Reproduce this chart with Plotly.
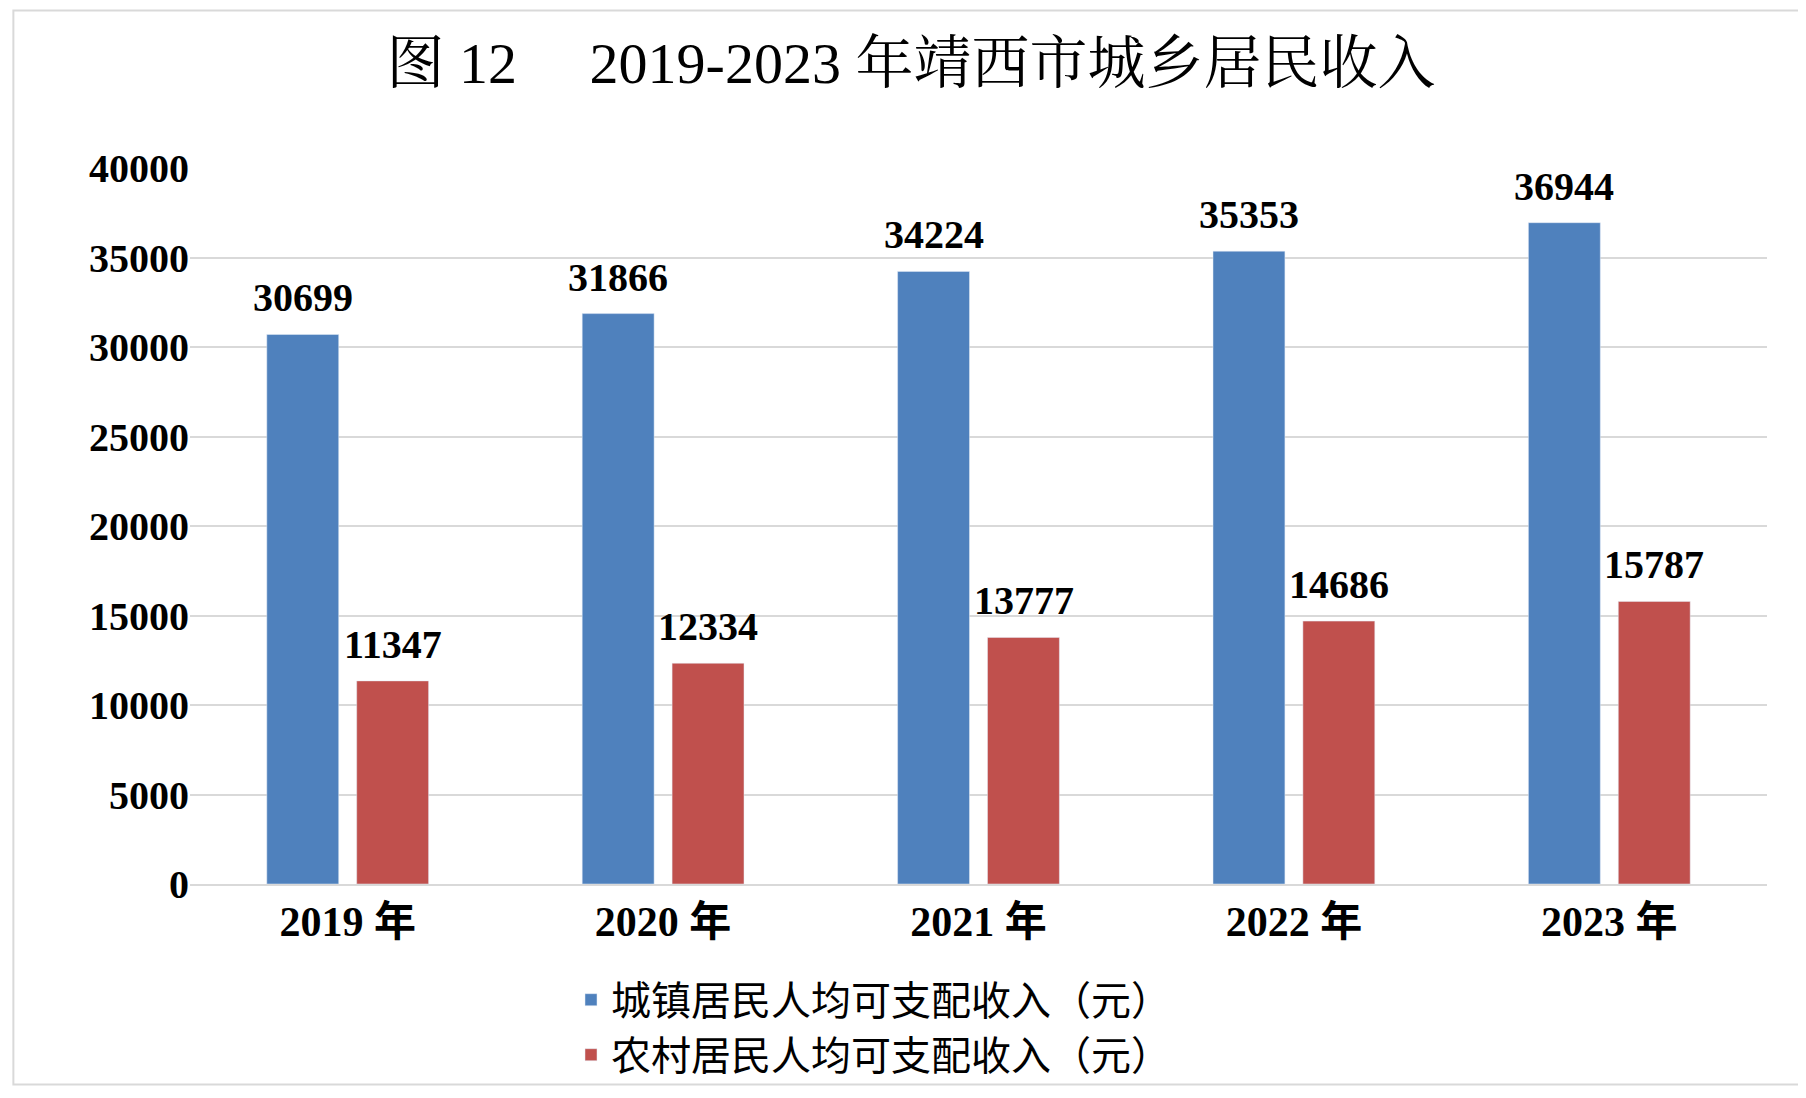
import plotly.graph_objs as go

years = ['2019 年', '2020 年', '2021 年', '2022 年', '2023 年']
urban = [30699, 31866, 34224, 35353, 36944]
rural = [11347, 12334, 13777, 14686, 15787]
y_ticks = [0, 5000, 10000, 15000, 20000, 25000, 30000, 35000, 40000]

num_font = dict(family='Liberation Serif, Noto Sans CJK SC', size=40, color='black', weight='bold')

fig = go.Figure()
fig.add_trace(go.Bar(x=years, y=urban, name='城镇居民人均可支配收入（元）', marker_color='#4F81BD'))
fig.add_trace(go.Bar(x=years, y=rural, name='农村居民人均可支配收入（元）', marker_color='#C0504D'))

# 数据标签
for yr, u, r in zip(years, urban, rural):
    fig.add_annotation(x=yr, y=u, text=str(u), showarrow=False, xshift=-45, yshift=12,
                       yanchor='bottom', font=num_font)
    fig.add_annotation(x=yr, y=r, text=str(r), showarrow=False, xshift=45, yshift=12,
                       yanchor='bottom', font=num_font)

fig.update_layout(
    width=1806, height=1098,
    paper_bgcolor='white', plot_bgcolor='white',
    title=dict(text='图 12\u3000 2019-2023 年靖西市城乡居民收入', x=0.5, xanchor='center',
               y=0.95, yanchor='middle',
               font=dict(family='Liberation Serif, Noto Serif CJK SC, Noto Sans CJK SC', size=58, color='black')),
    barmode='group', bargap=0.43, bargroupgap=0.2,
    margin=dict(l=182, r=47, t=160, b=222),
    showlegend=True,
    legend=dict(orientation='h', x=0.5, xanchor='center', y=-0.2, yanchor='middle',
                bgcolor='rgba(0,0,0,0)',
                font=dict(family='Noto Sans CJK SC', size=40, color='black'),
                entrywidth=770, entrywidthmode='pixels'),
    xaxis=dict(tickfont=dict(family='Liberation Serif, Noto Sans CJK SC', size=42, color='black', weight='bold'),
               showline=True, linecolor='#d9d9d9', linewidth=2, ticks=''),
    yaxis=dict(range=[0, 40000], tickvals=y_ticks, ticktext=[str(v) for v in y_ticks],
               showgrid=True, gridcolor='#d9d9d9', gridwidth=2, zeroline=False, ticks='',
               tickfont=dict(family='Liberation Serif', size=40, color='black', weight='bold')),
    shapes=[dict(type='rect', xref='paper', yref='paper', x0=-0.112, x1=1.028, y0=-0.28, y1=1.22,
                 line=dict(color='#d9d9d9', width=2))],
)
fig.write_html("out.html")
